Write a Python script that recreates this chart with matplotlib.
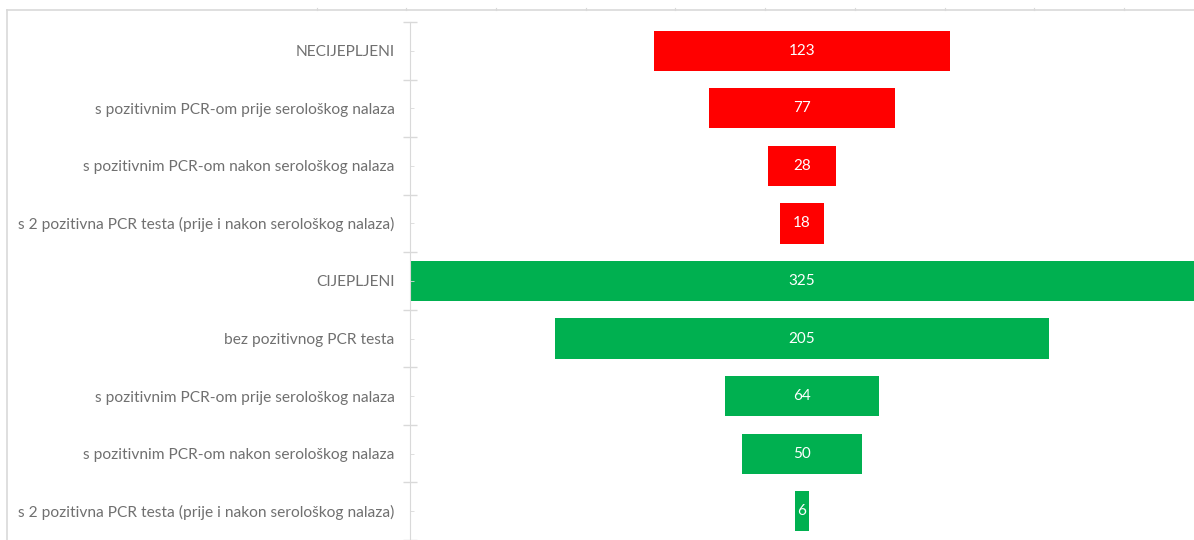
import matplotlib.pyplot as plt
from matplotlib.lines import Line2D

categories = [
    "NECIJEPLJENI",
    "s pozitivnim PCR-om prije serološkog nalaza",
    "s pozitivnim PCR-om nakon serološkog nalaza",
    "s 2 pozitivna PCR testa (prije i nakon serološkog nalaza)",
    "CIJEPLJENI",
    "bez pozitivnog PCR testa",
    "s pozitivnim PCR-om prije serološkog nalaza",
    "s pozitivnim PCR-om nakon serološkog nalaza",
    "s 2 pozitivna PCR testa (prije i nakon serološkog nalaza)",
]
values = [123, 77, 28, 18, 325, 205, 64, 50, 6]
groups = ["red"] * 4 + ["green"] * 5

colors = {"red": "#FF0000", "green": "#00B050"}
grid_grey = "#D9D9D9"
text_grey = "#707070"

plt.rcParams["font.family"] = ["Lato", "DejaVu Sans"]

fig = plt.figure(figsize=(11.94, 5.4), dpi=100)
ax = fig.add_axes([410 / 1194, 0, 784 / 1194, 518 / 540])

n = len(values)
ys = list(range(n))
lefts = [-v / 2 for v in values]
bar_colors = [colors[g] for g in groups]
ax.barh(ys, values, left=lefts, height=0.7, color=bar_colors)

for y, v in zip(ys, values):
    ax.text(0, y, str(v), ha="center", va="center", color="white", fontsize=11)

half = max(values) / 2
ax.set_xlim(-half, half)
ax.set_ylim(n - 0.5, -0.5)

# category boundaries get cross ticks, centers get the labels
ax.set_yticks([i - 0.5 for i in range(n + 1)])
ax.set_yticklabels([])
ax.set_yticks(ys, minor=True)
ax.set_yticklabels(categories, minor=True)
ax.tick_params(axis="y", which="major", direction="inout", length=10, color=grid_grey, width=1)
ax.tick_params(axis="y", which="minor", direction="in", length=3, color=grid_grey,
               labelsize=11.2, labelcolor=text_grey, pad=11)
ax.set_xticks([])

for side in ["top", "right", "bottom"]:
    ax.spines[side].set_visible(False)
ax.spines["left"].set_color(grid_grey)

# outer chart border (top and left edges visible in the crop)
fig.add_artist(Line2D([7 / 1194, 1], [1 - 10 / 540, 1 - 10 / 540], color=grid_grey, lw=1.2))
fig.add_artist(Line2D([7 / 1194, 7 / 1194], [0, 1 - 10 / 540], color=grid_grey, lw=1.2))
for px in [317, 406, 496, 586, 675, 765, 855, 945, 1034, 1124]:
    fig.add_artist(Line2D([px / 1194, px / 1194], [1 - 10 / 540, 1 - 8 / 540], color=grid_grey, lw=0.8))

fig.savefig("out.png", dpi=100)
